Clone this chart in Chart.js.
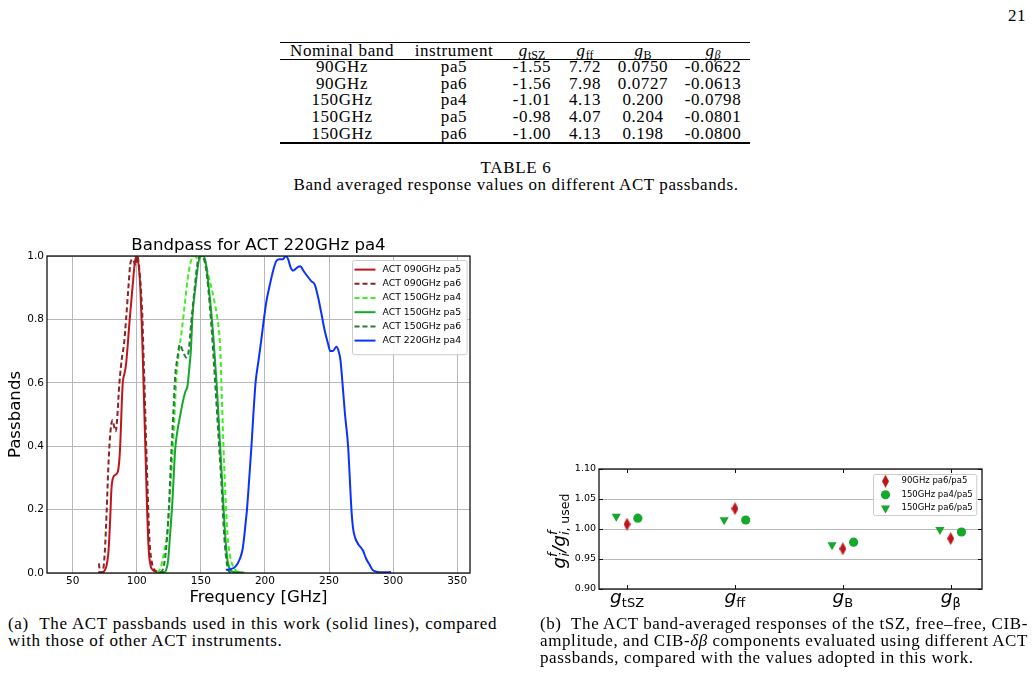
<!DOCTYPE html>
<html>
<head>
<meta charset="utf-8">
<script src="https://cdn.jsdelivr.net/npm/chart.js@4.4.1/dist/chart.umd.min.js"></script>
<style>
  html, body { margin: 0; padding: 0; background: #fff; }
  body { width: 1035px; height: 678px; position: relative; overflow: hidden; font-family: "Liberation Serif", serif; color: #000; }
  .t { position: absolute; white-space: nowrap; font-size: 17px; line-height: 20px; letter-spacing: 0.6px; }
  .t sub { font-size: 12px; vertical-align: -3px; line-height: 0; letter-spacing: 0; }
  .rule { position: absolute; left: 280px; width: 470px; background: #000; }
  canvas { position: absolute; }
</style>
</head>
<body>
<div class="rule" style="top:41.6px;height:1.3px"></div>
<div class="rule" style="top:58.8px;height:0.8px"></div>
<div class="rule" style="top:142.4px;height:1.3px"></div>
<canvas id="bandChart" width="480" height="373" style="left:0;top:235px"></canvas>
<canvas id="ratioChart" width="500" height="160" style="left:530px;top:455px"></canvas>
<script>
// ----- Table 6 -----
const tableHeads = ['Nominal band', 'instrument', '<i>g</i><sub>tSZ</sub>', '<i>g</i><sub>ff</sub>', '<i>g</i><sub>B</sub>', '<i>g</i><sub><i>β</i></sub>'];
const bands = ['90GHz', '90GHz', '150GHz', '150GHz', '150GHz'];
const instruments = ['pa5', 'pa6', 'pa4', 'pa5', 'pa6'];
const gTSZ = ['-1.55', '-1.56', '-1.01', '-0.98', '-1.00'];
const gFF = ['7.72', '7.98', '4.13', '4.07', '4.13'];
const gB = ['0.0750', '0.0727', '0.200', '0.204', '0.198'];
const gBeta = ['-0.0622', '-0.0613', '-0.0798', '-0.0801', '-0.0800'];

// ----- Bandpasses (frequency in GHz, normalised response) -----
const freq090pa5 = [70, 73, 75, 76.5, 77.8, 78.6, 79.4, 80.2, 81.5, 83.5, 85.3, 86.5, 87.3, 88.2, 89.1, 90.5, 91.7, 93, 94.3, 95.6, 96.9, 98, 99, 100, 101.5, 102.8, 103.8, 104.6, 105.3, 106, 106.7, 107.4, 108.1, 108.9, 109.8, 111, 113, 116, 122];
const pass090pa5 = [0.003, 0.002, 0.008, 0.024, 0.06, 0.11, 0.18, 0.26, 0.3, 0.31, 0.32, 0.36, 0.42, 0.52, 0.6, 0.63, 0.66, 0.72, 0.79, 0.85, 0.91, 0.96, 0.99, 1.0, 0.97, 0.9, 0.8, 0.7, 0.6, 0.5, 0.4, 0.3, 0.2, 0.11, 0.05, 0.02, 0.008, 0.003, 0.001];
const freq090pa6 = [70.5, 71.5, 73.5, 75, 76.6, 77.8, 79, 80.2, 81.2, 82.5, 83.6, 84.6, 86.5, 88.5, 90, 91.7, 93.5, 95.2, 97, 99, 100.5, 102, 103.5, 104.5, 105.2, 106, 106.7, 107.4, 108.2, 109, 110, 111.5, 113.5, 117, 122];
const pass090pa6 = [0.03, 0.0, 0.004, 0.06, 0.2, 0.33, 0.42, 0.47, 0.482, 0.46, 0.447, 0.48, 0.6, 0.68, 0.72, 0.8, 0.9, 0.98, 0.99, 0.97, 1.0, 0.96, 0.88, 0.8, 0.7, 0.6, 0.5, 0.4, 0.3, 0.2, 0.1, 0.04, 0.012, 0.004, 0.001];
const freq150pa4 = [116, 119, 121.5, 124, 126, 128, 129.5, 131, 133, 135, 137, 139.5, 142, 145, 148, 150, 152.6, 156.5, 160.4, 163, 165, 166.2, 167.5, 169, 170.8, 173, 176, 179, 182];
const pass150pa4 = [0, 0.02, 0.07, 0.13, 0.25, 0.38, 0.5, 0.62, 0.7, 0.76, 0.83, 0.92, 0.98, 1.0, 0.99, 1.0, 0.99, 0.93, 0.86, 0.8, 0.72, 0.58, 0.42, 0.26, 0.12, 0.05, 0.015, 0.003, 0];
const freq150pa5 = [118, 121, 123, 124.5, 126, 127.9, 130, 131.8, 133.6, 135.7, 137.8, 139.6, 140.9, 142.2, 143.5, 146, 148.2, 150, 151.8, 153.9, 156, 159.5, 162.3, 164.8, 167, 169, 170.8, 173, 176, 180, 184];
const pass150pa5 = [0, 0.002, 0.01, 0.04, 0.12, 0.23, 0.39, 0.45, 0.49, 0.535, 0.57, 0.59, 0.64, 0.7, 0.81, 0.91, 0.98, 1.0, 1.0, 0.98, 0.91, 0.76, 0.6, 0.42, 0.26, 0.12, 0.04, 0.01, 0.003, 0.002, 0.001];
const freq150pa6 = [118.8, 121, 123, 125, 127, 128.5, 130, 131.8, 133.5, 136, 138.5, 140.5, 142.5, 145, 147.5, 150, 152.5, 155, 158.6, 161.2, 163.8, 166.4, 168.2, 170, 172, 174];
const pass150pa6 = [0, 0.02, 0.08, 0.2, 0.38, 0.5, 0.62, 0.68, 0.72, 0.7, 0.68, 0.7, 0.79, 0.89, 0.98, 1.0, 0.99, 0.93, 0.76, 0.6, 0.43, 0.26, 0.12, 0.04, 0.005, 0];
const freq220pa4 = [169.5, 173, 177, 180.5, 182.6, 184, 185, 186, 187.8, 189.5, 191, 192.7, 195, 197, 199.2, 201.3, 203.9, 206.5, 209, 211.7, 214.2, 216.3, 218.1, 219.9, 222, 224.1, 225.9, 227.7, 229.8, 232.4, 236.3, 238.9, 241.5, 244, 246.6, 249.2, 251, 253.1, 255.7, 257.5, 259, 260.5, 262.5, 264.9, 266.2, 267.5, 268.8, 270.5, 273, 276.6, 279, 281.8, 284, 287, 292, 298.4];
const pass220pa4 = [0.01, 0.012, 0.02, 0.045, 0.075, 0.12, 0.16, 0.2, 0.3, 0.4, 0.5, 0.6, 0.67, 0.73, 0.8, 0.86, 0.91, 0.955, 0.985, 0.99, 0.99, 1.0, 0.99, 0.966, 0.954, 0.96, 0.966, 0.968, 0.955, 0.94, 0.92, 0.91, 0.87, 0.82, 0.766, 0.724, 0.7, 0.7, 0.714, 0.7, 0.67, 0.6, 0.5, 0.4, 0.3, 0.2, 0.14, 0.11, 0.09, 0.07, 0.045, 0.025, 0.01, 0.004, 0.002, 0.003];
const freqTicks = [50, 100, 150, 200, 250, 300, 350];

// ----- Band-averaged response ratios -----
const ratioLabels = ['tSZ', 'ff', 'B', 'β'];
const ratio90pa6pa5 = [1.008, 1.034, 0.967, 0.984];
const ratio150pa4pa5 = [1.018, 1.015, 0.978, 0.995];
const ratio150pa6pa5 = [1.021, 1.015, 0.9735, 0.999];
const ratioTicks = [0.90, 0.95, 1.00, 1.05, 1.10];

// ----- page text -----
// w: fit letter spacing to width; jw: justify to width with word spacing
function addText(html, o) {
  const d = document.createElement('div');
  d.className = 't';
  d.innerHTML = html;
  document.body.appendChild(d);
  if (o.w) {
    d.style.letterSpacing = '0px';
    const nat = d.getBoundingClientRect().width;
    d.style.letterSpacing = ((o.w - nat) / d.textContent.length) + 'px';
  }
  if (o.jw) {
    const nat = d.getBoundingClientRect().width;
    const gaps = (d.textContent.match(/[ \u00a0]/g) || []).length;
    d.style.wordSpacing = ((o.jw - nat) / gaps) + 'px';
  }
  const w = d.getBoundingClientRect().width;
  d.style.left = (o.x !== undefined ? o.x : o.cx - w / 2) + 'px';
  d.style.top = (o.cy - 9.5) + 'px';
}

addText('21', { x: 1008, cy: 15 });
const colCenters = [342, 454, 532, 585, 643, 713];
tableHeads.forEach((h, c) => addText(h, { cx: colCenters[c], cy: 50 }));
const rowCy = [66, 83, 99.7, 116.5, 133.3];
[bands, instruments, gTSZ, gFF, gB, gBeta].forEach((col, c) =>
  col.forEach((v, r) => addText(v, { cx: colCenters[c], cy: rowCy[r] })));
addText('TABLE 6', { cx: 516, cy: 167.5, w: 71 });
addText('Band averaged response values on different ACT passbands.', { cx: 516, cy: 184, w: 445 });
addText('(a) &nbsp;The ACT passbands used in this work (solid lines), compared', { x: 8, cy: 623, jw: 489 });
addText('with those of other ACT instruments.', { x: 8, cy: 640 });
addText('(b) &nbsp;The ACT band-averaged responses of the tSZ, free–free, CIB-', { x: 540, cy: 623, jw: 488 });
addText('amplitude, and CIB-<i>δβ</i> components evaluated using different ACT', { x: 540, cy: 640, jw: 488 });
addText('passbands, compared with the values adopted in this work.', { x: 540, cy: 657 });

// ----- plugins -----
function drawMarker(ctx, style, r, rot, x, y) {
  if (typeof style === 'object') {
    ctx.drawImage(style, x - style.width / 2, y - style.height / 2);
    return;
  }
  ctx.beginPath();
  if (style === 'circle') {
    ctx.arc(x, y, r, 0, Math.PI * 2);
  } else {
    let a = rot * Math.PI / 180;
    ctx.moveTo(x + Math.sin(a) * r, y - Math.cos(a) * r);
    for (let k = 0; k < 2; k++) {
      a += Math.PI * 2 / 3;
      ctx.lineTo(x + Math.sin(a) * r, y - Math.cos(a) * r);
    }
    ctx.closePath();
  }
  ctx.fill();
}

const frameBox = {
  id: 'frameBox',
  afterDatasetsDraw(chart, args, o) {
    const { ctx, chartArea: a } = chart;
    ctx.save();
    ctx.strokeStyle = '#111';
    ctx.lineWidth = 1.3;
    ctx.strokeRect(a.left, a.top, a.right - a.left, a.bottom - a.top);
    if (o.ticks) {
      ctx.lineWidth = 1;
      ctx.beginPath();
      chart.scales.x.ticks.forEach(t => {
        const x = Math.round(chart.scales.x.getPixelForValue(t.value)) + 0.5;
        ctx.moveTo(x, a.bottom); ctx.lineTo(x, a.bottom - 4);
        ctx.moveTo(x, a.top); ctx.lineTo(x, a.top + 4);
      });
      chart.scales.y.ticks.forEach(t => {
        const y = Math.round(chart.scales.y.getPixelForValue(t.value)) + 0.5;
        ctx.moveTo(a.left, y); ctx.lineTo(a.left + 4, y);
        ctx.moveTo(a.right, y); ctx.lineTo(a.right - 4, y);
      });
      ctx.stroke();
    }
    ctx.restore();
  }
};

const boxLegend = {
  id: 'boxLegend',
  afterDraw(chart, args, o) {
    const { ctx, chartArea: a } = chart;
    const sets = chart.data.datasets;
    ctx.save();
    ctx.font = o.font;
    const textW = Math.max(...sets.map(d => ctx.measureText(d.label).width));
    const w = o.textX + textW + o.padRight;
    const h = o.padTop + sets.length * o.rowH + o.padBottom;
    const left = Math.round(a.right - o.right - w) + 0.5;
    const top = Math.round(a.top + o.top) + 0.5;
    ctx.fillStyle = 'rgba(255,255,255,0.9)';
    ctx.strokeStyle = '#cccccc';
    ctx.lineWidth = 1;
    ctx.beginPath();
    ctx.roundRect(left, top, w, h, 2);
    ctx.fill();
    ctx.stroke();
    sets.forEach((d, i) => {
      const cy = top + o.padTop + o.rowH * (i + 0.5);
      if (d.showLine === false) {
        ctx.fillStyle = d.backgroundColor;
        drawMarker(ctx, d.pointStyle, d.pointRadius, d.pointRotation || 0, left + o.sampleX, cy);
      } else {
        ctx.strokeStyle = d.borderColor;
        ctx.lineWidth = d.borderWidth;
        ctx.setLineDash(d.borderDash || []);
        ctx.beginPath();
        ctx.moveTo(left + o.sampleX, cy);
        ctx.lineTo(left + o.sampleX + o.sampleW, cy);
        ctx.stroke();
        ctx.setLineDash([]);
      }
      ctx.fillStyle = '#000';
      ctx.textAlign = 'left';
      ctx.textBaseline = 'middle';
      ctx.fillText(d.label, left + o.textX, cy);
    });
    ctx.restore();
  }
};

// g_x tick labels and the g_i^f / g_i,used axis title
const mathLabels = {
  id: 'mathLabels',
  afterDraw(chart) {
    const { ctx, chartArea: a } = chart;
    const xs = chart.scales.x;
    const big = 'italic 18.5px "DejaVu Sans"', small = '13px "DejaVu Sans"';
    ctx.save();
    ctx.fillStyle = '#000';
    ctx.textAlign = 'left';
    ctx.textBaseline = 'alphabetic';
    ratioLabels.forEach((sub, i) => {
      ctx.font = big; const wg = ctx.measureText('g').width;
      ctx.font = small; const ws = ctx.measureText(sub).width;
      const x = xs.getPixelForValue(i) - (wg + ws) / 2, y = a.bottom + 14;
      ctx.font = big; ctx.fillText('g', x, y);
      ctx.font = small; ctx.fillText(sub, x + wg, y + 3.5);
    });
    // rotated axis title, read bottom to top
    const main = 'italic 18px "DejaVu Sans"', scr = 'italic 12.5px "DejaVu Sans"', scrUp = '12.5px "DejaVu Sans"';
    const w = (f, s) => { ctx.font = f; return ctx.measureText(s).width; };
    const total = w(main, 'g') + w(scr, 'f') + w(main, '/') + w(main, 'g') + w(scr, 'i') + w(scrUp, ', used');
    ctx.translate(35, 76);
    ctx.rotate(-Math.PI / 2);
    let x = -total / 2;
    ctx.font = main; ctx.fillText('g', x, 0); x += w(main, 'g');
    ctx.font = scr; ctx.fillText('f', x, -8); ctx.fillText('i', x + 0.5, 4); x += w(scr, 'f');
    ctx.font = main; ctx.fillText('/', x, 0); x += w(main, '/');
    ctx.fillText('g', x, 0); x += w(main, 'g');
    ctx.font = scr; ctx.fillText('f', x, -8); ctx.fillText('i', x, 4); x += w(scr, 'i');
    ctx.font = scrUp; ctx.fillText(', used', x, 4);
    ctx.restore();
  }
};

Chart.defaults.font.family = '"DejaVu Sans"';
Chart.defaults.color = '#000';

// ----- (a) bandpass chart -----
const bandSeries = [
  { label: 'ACT 090GHz pa5', freq: freq090pa5, pass: pass090pa5, color: '#c0141c', dash: [] },
  { label: 'ACT 090GHz pa6', freq: freq090pa6, pass: pass090pa6, color: '#8b2424', dash: [5, 3] },
  { label: 'ACT 150GHz pa4', freq: freq150pa4, pass: pass150pa4, color: '#3cf01e', dash: [5, 3] },
  { label: 'ACT 150GHz pa5', freq: freq150pa5, pass: pass150pa5, color: '#12a82a', dash: [] },
  { label: 'ACT 150GHz pa6', freq: freq150pa6, pass: pass150pa6, color: '#2a7a3a', dash: [5, 3] },
  { label: 'ACT 220GHz pa4', freq: freq220pa4, pass: pass220pa4, color: '#0a32ff', dash: [] }
];

new Chart(document.getElementById('bandChart'), {
  type: 'line',
  data: {
    datasets: bandSeries.map((s, i) => ({
      label: s.label,
      data: s.freq.map((f, j) => ({ x: f, y: s.pass[j] })),
      borderColor: s.color,
      backgroundColor: s.color,
      borderDash: s.dash,
      borderWidth: 2,
      pointRadius: 0,
      tension: 0.4,
      cubicInterpolationMode: 'monotone',
      fill: false,
      order: -i
    }))
  },
  options: {
    responsive: false,
    animation: false,
    layout: { padding: { top: 1, right: 10, left: 0, bottom: 0 } },
    plugins: {
      legend: { display: false },
      tooltip: { enabled: false },
      title: {
        display: true,
        fullSize: false,
        text: 'Bandpass for ACT 220GHz pa4',
        font: { size: 16.6, weight: 'normal', lineHeight: '20px' },
        color: '#000',
        padding: 0
      },
      boxLegend: { font: '9.3px "DejaVu Sans"', right: 3, top: 4, rowH: 14.2, padTop: 2, padBottom: 7, sampleX: 2, sampleW: 21, textX: 30, padRight: 6 }
    },
    scales: {
      x: {
        type: 'linear',
        min: 30,
        max: 360,
        afterBuildTicks: s => { s.ticks = freqTicks.map(v => ({ value: v })); },
        afterFit: s => { s.height = 35; },
        grid: { color: '#b8b8b8', drawTicks: false },
        border: { display: false },
        ticks: { padding: 2, maxRotation: 0, font: { size: 10.5 } },
        title: { display: true, text: 'Frequency [GHz]', font: { size: 16.6, lineHeight: '20px' }, padding: 0 }
      },
      y: {
        min: 0,
        max: 1,
        afterFit: s => { s.width = 47; },
        grid: { color: '#b8b8b8', drawTicks: false },
        border: { display: false },
        ticks: { stepSize: 0.2, padding: 3, font: { size: 10.5 }, callback: v => v.toFixed(1) },
        title: { display: true, text: 'Passbands', font: { size: 16.6, lineHeight: '20px' }, padding: { top: 6, bottom: 0 } }
      }
    }
  },
  plugins: [frameBox, boxLegend]
});

// ----- (b) response ratio chart -----
const red = '#be141c', green = '#15a82c';
const diamond = document.createElement('canvas');
diamond.width = 7; diamond.height = 13;
(() => {
  const c = diamond.getContext('2d');
  c.fillStyle = red;
  c.beginPath();
  c.moveTo(3.5, 0); c.lineTo(7, 6.5); c.lineTo(3.5, 13); c.lineTo(0, 6.5);
  c.closePath();
  c.fill();
})();
const dodge = 0.1;

new Chart(document.getElementById('ratioChart'), {
  type: 'scatter',
  data: {
    datasets: [
      { label: '90GHz pa6/pa5', data: ratio90pa6pa5.map((v, i) => ({ x: i, y: v })), pointStyle: diamond, pointRadius: 6, backgroundColor: red, borderColor: red, showLine: false },
      { label: '150GHz pa4/pa5', data: ratio150pa4pa5.map((v, i) => ({ x: i + dodge, y: v })), pointStyle: 'circle', pointRadius: 4.6, borderWidth: 0, backgroundColor: green, borderColor: green, showLine: false },
      { label: '150GHz pa6/pa5', data: ratio150pa6pa5.map((v, i) => ({ x: i - dodge, y: v })), pointStyle: 'triangle', pointRadius: 5.3, pointRotation: 180, borderWidth: 0, backgroundColor: green, borderColor: green, showLine: false }
    ]
  },
  options: {
    responsive: false,
    animation: false,
    layout: { padding: { top: 14, right: 48, left: 0, bottom: 0 } },
    plugins: {
      legend: { display: false },
      tooltip: { enabled: false },
      frameBox: { ticks: true },
      boxLegend: { font: '8.5px "DejaVu Sans"', right: 6, top: 5, rowH: 13.5, padTop: 0, padBottom: 0.5, sampleX: 12, sampleW: 0, textX: 28, padRight: 4 }
    },
    scales: {
      x: {
        type: 'linear',
        min: -0.26,
        max: 3.29,
        afterBuildTicks: s => { s.ticks = ratioLabels.map((l, i) => ({ value: i })); },
        afterFit: s => { s.height = 26; },
        grid: { display: false },
        border: { display: false },
        ticks: { display: false }
      },
      y: {
        min: 0.9,
        max: 1.1,
        afterBuildTicks: s => { s.ticks = ratioTicks.map(v => ({ value: v })); },
        afterFit: s => { s.width = 69; },
        grid: { color: '#b8b8b8', drawTicks: false },
        border: { display: false },
        ticks: { padding: 3, font: { size: 9.5 }, callback: v => v.toFixed(2) }
      }
    }
  },
  plugins: [frameBox, boxLegend, mathLabels]
});
</script>
</body>
</html>
